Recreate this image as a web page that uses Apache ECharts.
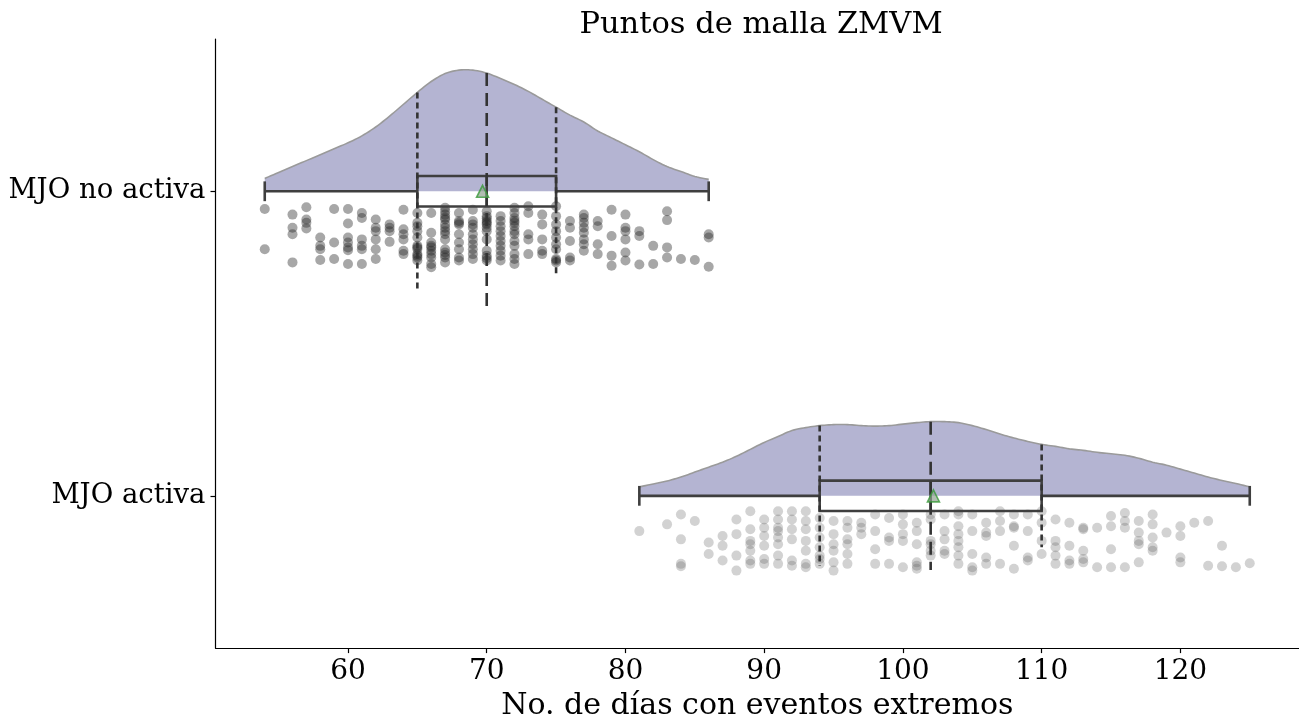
<!DOCTYPE html>
<html>
<head>
<meta charset="utf-8">
<script src="https://cdn.jsdelivr.net/npm/echarts@6/dist/echarts.min.js"></script>
<style>
html,body{margin:0;padding:0;background:#fff;}
#chart{width:1299px;height:726px;}
</style>
</head>
<body>
<div id="chart"></div>
<script>
// ---------------- DATA ----------------
const categories = ['MJO no activa', 'MJO activa'];
const xTicks = [60, 70, 80, 90, 100, 110, 120];

// KDE (relative density) for each group
const kdeTopX = [54,55,56,57,58,59,60,61,62,63,64,65,66,67,68,69,70,71,72,73,74,75,76,77,78,79,80,81,82,83,84,85,86];
const kdeTopD = [13,19,25,31,37,43,49,56,65,76,88,100,111,119,122.5,122.5,119.5,114,108,101,93,85,77,70,61,54,47,40,32,25,20,15,12];
const kdeBotX = [81,82,83,84,85,86,87,88,89,90,91,92,93,94,95,96,97,98,99,100,101,102,103,104,105,106,107,108,109,110,111,112,113,114,115,116,117,118,119,120,121,122,123,124,125];
const kdeBotD = [9,12,15,19,24,29,34,40,47,54,60,66,69,71,72,72,71,70.5,71,72.5,74,75,75,74,71,67,62.5,58.5,55,52,50,47.5,46,44,42.5,41,38,34,31,27,23,19,15.5,12.5,9];

// box stats: [min, q1, median, q3, max]
const boxStats = [[54, 65, 70, 75, 86], [81, 94, 102, 110, 125]];
const means = [69.7, 102.2];

// rain points: [value, jitter (-1..1)]
const rainTop = [
 [54,-0.90],[54,0.41],
 [56,-0.72],[56,-0.29],[56,-0.08],[56,0.84],
 [57,-0.96],[57,-0.56],[57,-0.45],[57,-0.27],
 [58,0.03],[58,0.30],[58,0.41],[58,0.76],
 [59,-0.90],[59,0.19],[59,0.73],
 [60,-0.90],[60,-0.43],[60,0.03],[60,0.19],[60,0.35],[60,0.44],[60,0.89],
 [61,-0.77],[61,-0.61],[61,0.09],[61,0.30],[61,0.41],[61,0.89],
 [62,-0.56],[62,-0.29],[62,-0.18],[62,0.09],[62,0.41],[62,0.73],
 [63,-0.40],[63,-0.29],[63,-0.18],[63,0.17],
 [64,-0.88],[64,-0.24],[64,-0.08],[64,0.09],[64,0.46],[64,0.57],
 [65,-0.77],[65,-0.45],[65,-0.34],[65,-0.18],[65,0.03],[65,0.30],[65,0.35],[65,0.57],[65,0.68],[65,0.78],[65,0.62],[65,0.40],
 [66,-0.77],[66,-0.13],[66,0.19],[66,0.35],[66,0.46],[66,0.57],[66,0.68],[66,0.89],[66,1.0],[66,0.30],
 [67,-0.94],[67,-0.83],[67,-0.72],[67,-0.56],[67,-0.40],[67,-0.29],[67,-0.18],[67,-0.08],[67,0.09],[67,0.41],[67,0.52],[67,0.68],[67,0.84],[67,-0.62],[67,0.60],
 [68,-0.77],[68,-0.51],[68,-0.40],[68,-0.08],[68,0.19],[68,0.41],[68,0.68],[68,0.78],[68,-0.45],
 [69,-0.88],[69,-0.51],[69,-0.29],[69,-0.08],[69,0.09],[69,0.25],[69,0.41],[69,0.57],[69,0.73],[69,-0.40],
 [70,-0.83],[70,-0.67],[70,-0.51],[70,-0.40],[70,-0.29],[70,-0.18],[70,0.09],[70,0.46],[70,0.62],[70,0.78],[70,-0.60],[70,-0.45],[70,0.70],
 [71,-0.67],[71,-0.51],[71,-0.34],[71,-0.18],[71,-0.02],[71,0.14],[71,0.30],[71,0.46],[71,0.62],[71,0.78],
 [72,-0.94],[72,-0.77],[72,-0.61],[72,-0.45],[72,-0.34],[72,-0.18],[72,-0.08],[72,0.14],[72,0.30],[72,0.57],[72,0.73],[72,0.89],[72,-0.52],
 [73,-0.99],[73,-0.77],[73,-0.08],[73,0.09],[73,0.57],
 [74,-0.72],[74,-0.40],[74,0.09],[74,0.46],[74,0.57],
 [75,-0.99],[75,-0.67],[75,-0.40],[75,-0.18],[75,0.03],[75,0.25],[75,0.41],[75,0.73],[75,0.84],[75,0.78],
 [76,-0.51],[76,-0.29],[76,0.14],[76,0.68],[76,0.78],
 [77,-0.72],[77,-0.61],[77,-0.45],[77,-0.29],[77,-0.13],[77,0.09],[77,0.25],[77,0.46],
 [78,-0.51],[78,-0.34],[78,0.25],[78,0.57],
 [79,-0.88],[79,-0.02],[79,0.62],[79,0.95],
 [80,-0.72],[80,-0.29],[80,-0.18],[80,0.09],[80,0.52],[80,0.78],
 [81,-0.18],[81,-0.02],[81,0.91],
 [82,0.30],[82,0.89],
 [83,-0.83],[83,-0.54],[83,0.35],[83,0.68],
 [84,0.73],[85,0.76],
 [86,-0.08],[86,0.03],[86,0.98]
];
const rainBot = [
 [81,-0.33],[83,-0.55],
 [84,-0.87],[84,-0.06],[84,0.74],[84,0.82],
 [85,-0.66],
 [86,0.04],[86,0.42],
 [87,-0.17],[87,0.15],[87,0.63],
 [88,-0.71],[88,-0.23],[88,0.47],[88,0.96],
 [89,-0.98],[89,-0.39],[89,-0.01],[89,0.10],[89,0.31],[89,0.63],[89,0.74],
 [90,-0.71],[90,-0.44],[90,-0.17],[90,0.15],[90,0.58],[90,0.74],
 [91,-0.98],[91,-0.71],[91,-0.44],[91,-0.33],[91,-0.12],[91,0.10],[91,0.47],[91,0.74],
 [92,-0.98],[92,-0.71],[92,-0.39],[92,-0.06],[92,0.63],[92,0.80],
 [93,-0.98],[93,-0.66],[93,-0.39],[93,-0.01],[93,0.31],[93,0.74],[93,0.85],
 [94,-0.76],[94,-0.44],[94,-0.12],[94,0.20],[94,0.47],[94,0.58],[94,0.74],
 [95,-0.66],[95,-0.23],[95,0.10],[95,0.31],[95,0.69],[95,0.96],
 [96,-0.66],[96,-0.44],[96,-0.06],[96,0.10],[96,0.42],[96,0.74],
 [97,-0.60],[97,-0.44],[97,-0.23],
 [98,-0.87],[98,-0.33],[98,0.26],[98,0.74],
 [99,-0.76],[99,-0.12],[99,-0.01],[99,0.74],
 [100,-0.87],[100,-0.55],[100,-0.23],[100,-0.01],[100,0.85],
 [101,-0.60],[101,-0.33],[101,0.10],[101,0.69],[101,0.80],[101,0.90],
 [102,-0.87],[102,-0.71],[102,-0.01],[102,0.10],[102,0.31],[102,0.47],
 [103,-0.87],[103,-0.33],[103,-0.06],[103,0.31],[103,0.42],
 [104,-0.98],[104,-0.87],[104,-0.49],[104,-0.23],[104,-0.01],[104,0.20],[104,0.47],[104,0.74],
 [105,-0.87],[105,-0.33],[105,0.42],[105,0.85],[105,0.96],
 [106,-0.60],[106,-0.28],[106,-0.17],[106,0.53],[106,0.74],
 [107,-0.98],[107,-0.66],[107,-0.33],[107,0.74],
 [108,-0.87],[108,-0.49],[108,-0.44],[108,0.15],[108,0.90],
 [109,-0.87],[109,-0.33],[109,0.53],[109,0.63],
 [110,-0.98],[110,-0.60],[110,-0.01],[110,0.42],
 [111,-0.71],[111,-0.01],[111,0.20],[111,0.47],[111,0.74],
 [112,-0.60],[112,0.15],[112,0.63],[112,0.74],
 [113,-0.44],[113,-0.39],[113,0.31],[113,0.58],[113,0.69],
 [114,-0.44],[114,0.85],
 [115,-0.82],[115,-0.49],[115,0.26],[115,0.85],
 [116,-0.92],[116,-0.66],[116,-0.44],[116,0.85],
 [117,-0.66],[117,-0.28],[117,-0.01],[117,0.10],[117,0.69],
 [118,-0.87],[118,-0.55],[118,-0.12],[118,0.20],[118,0.31],
 [119,-0.28],
 [120,-0.49],[120,-0.17],[120,0.53],[120,0.69],
 [121,-0.60],
 [122,-0.66],[122,0.80],
 [123,0.15],[123,0.82],
 [124,0.85],
 [125,0.72]
];

// ---------------- LAYOUT / STYLE CONSTANTS ----------------
const FONT = 'DejaVu Serif';
const densToY = 1 / 308;      // y-units per relative density unit
const boxHalf = 0.05;         // box half height (y units)
const capHalf = 0.0325;       // whisker cap half height
const rainCenter = 0.149;     // offset of rain strip below baseline
const rainHalf = 0.1006;      // half width of jitter
const lineCol = '#3f3f3f';

const kdeX = [kdeTopX, kdeBotX];
const kdeD = [kdeTopD, kdeBotD];

function densAt(g, v) {
  const xs = kdeX[g], ds = kdeD[g];
  for (let i = 0; i < xs.length - 1; i++) {
    if (v >= xs[i] && v <= xs[i + 1]) {
      const t = (v - xs[i]) / (xs[i + 1] - xs[i]);
      return ds[i] + t * (ds[i + 1] - ds[i]);
    }
  }
  return 0;
}

// Catmull-Rom smoothing of the drawn outline (pixel space, rendering only)
function smoothPts(pts, steps) {
  const out = [];
  for (let i = 0; i < pts.length - 1; i++) {
    const p0 = pts[i - 1] || pts[i], p1 = pts[i], p2 = pts[i + 1], p3 = pts[i + 2] || pts[i + 1];
    for (let s = 0; s < steps; s++) {
      const t = s / steps, t2 = t * t, t3 = t2 * t;
      const f = (a, b, c, d) => 0.5 * ((2 * b) + (-a + c) * t + (2 * a - 5 * b + 4 * c - d) * t2 + (-a + 3 * b - 3 * c + d) * t3);
      out.push([f(p0[0], p1[0], p2[0], p3[0]), f(p0[1], p1[1], p2[1], p3[1])]);
    }
  }
  out.push(pts[pts.length - 1]);
  return out;
}

function cloudItem(params, api) {
  const g = params.dataIndex;
  const xs = kdeX[g], ds = kdeD[g];
  const curve = smoothPts(xs.map((x, i) => api.coord([x, g - ds[i] * densToY])), 6);
  const poly = [api.coord([xs[0], g])].concat(curve, [api.coord([xs[xs.length - 1], g])]);
  return {
    type: 'group',
    children: [
      { type: 'polygon', shape: { points: poly }, style: { fill: '#b4b4d2', stroke: null } },
      { type: 'polyline', shape: { points: curve }, style: { fill: null, stroke: '#9a9a9a', lineWidth: 1.6 } }
    ]
  };
}

function boxItem(params, api) {
  const g = params.dataIndex;
  const [mn, q1, md, q3, mx] = boxStats[g];
  const p = (x, y) => api.coord([x, y]);
  const s = { stroke: lineCol, lineWidth: 2.6, fill: null };
  const tl = p(q1, g - boxHalf), br = p(q3, g + boxHalf);
  const L = (a, b) => ({ type: 'line', shape: { x1: a[0], y1: a[1], x2: b[0], y2: b[1] }, style: s });
  return {
    type: 'group',
    children: [
      L(p(mn, g), p(q1, g)),
      L(p(q3, g), p(mx, g)),
      L(p(mn, g - capHalf), p(mn, g + capHalf)),
      L(p(mx, g - capHalf), p(mx, g + capHalf)),
      { type: 'rect', shape: { x: tl[0], y: tl[1], width: br[0] - tl[0], height: br[1] - tl[1] }, style: s },
      L(p(md, g - boxHalf), p(md, g + boxHalf))
    ]
  };
}

function quartItem(params, api) {
  const g = params.dataIndex;
  const [, q1, md, q3] = boxStats[g];
  const mk = (v, dash) => {
    const h = densAt(g, v) * densToY;
    const a = api.coord([v, g - h]), b = api.coord([v, g + h]);
    return { type: 'line', shape: { x1: a[0], y1: a[1], x2: b[0], y2: b[1] },
      style: { stroke: '#333333', lineWidth: 2.6, lineDash: dash } };
  };
  return { type: 'group', children: [mk(q1, [6, 4]), mk(q3, [6, 4]), mk(md, [13, 7])] };
}

const groupData = categories.map((c, i) => [boxStats[i][2], i]);
const rainData = (arr, g) => arr.map(([x, j]) => [x, g + rainCenter + j * rainHalf]);

const option = {
  animation: false,
  backgroundColor: '#ffffff',
  title: {
    text: 'Puntos de malla ZMVM',
    left: 756, top: 5, textAlign: 'center',
    textStyle: { fontFamily: FONT, fontSize: 30.5, fontWeight: 'normal', color: '#000' }
  },
  grid: { left: 215.5, top: 39, width: 1085, height: 616, containLabel: false },
  xAxis: {
    type: 'value', min: 50.45, max: 128.55,
    name: 'No. de días con eventos extremos',
    nameLocation: 'middle', nameGap: 40,
    nameTextStyle: { fontFamily: FONT, fontSize: 30, color: '#000' },
    axisLine: { show: true, onZero: false, lineStyle: { color: '#000', width: 1.2 } },
    axisTick: { show: true, length: 5, customValues: xTicks, lineStyle: { color: '#000', width: 1.2 } },
    axisLabel: { customValues: xTicks, margin: 10, fontFamily: FONT, fontSize: 28, color: '#000' },
    splitLine: { show: false }
  },
  yAxis: {
    type: 'value', min: -0.5, max: 1.5, inverse: true,
    axisLine: { show: true, onZero: false, lineStyle: { color: '#000', width: 1.2 } },
    axisTick: { show: true, length: 5, customValues: [0, 1], lineStyle: { color: '#000', width: 1.2 } },
    axisLabel: { customValues: [0, 1], margin: 10, fontFamily: FONT, fontSize: 27.5, color: '#000',
      formatter: v => categories[Math.round(v)] },
    splitLine: { show: false }
  },
  series: [
    { type: 'custom', name: 'cloud', renderItem: cloudItem, data: groupData, z: 1, silent: true },
    { type: 'scatter', name: 'rain0', data: rainData(rainTop, 0), symbolSize: 10, z: 2,
      itemStyle: { color: 'rgba(35,35,35,0.5)', borderWidth: 0 } },
    { type: 'scatter', name: 'rain1', data: rainData(rainBot, 1), symbolSize: 10, z: 2,
      itemStyle: { color: 'rgba(90,90,90,0.34)', borderWidth: 0 } },
    { type: 'custom', name: 'box', renderItem: boxItem, data: groupData, z: 3, silent: true },
    { type: 'custom', name: 'quartiles', renderItem: quartItem, data: groupData, z: 4, silent: true },
    { type: 'scatter', name: 'mean', data: means.map((m, i) => [m, i]), symbol: 'triangle', symbolSize: 12, z: 5,
      itemStyle: { color: 'rgba(140,160,140,0.85)', borderColor: '#3a9a3a', borderWidth: 1.6 } }
  ]
};

const chart = echarts.init(document.getElementById('chart'), null, { renderer: 'canvas' });
chart.setOption(option);
</script>
</body>
</html>
